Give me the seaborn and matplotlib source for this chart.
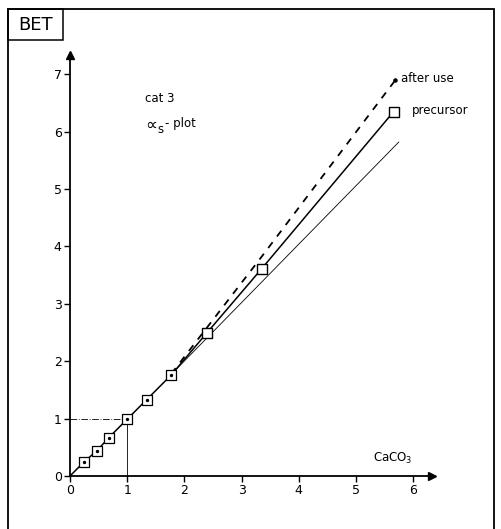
import matplotlib
matplotlib.use("Agg")
import matplotlib.pyplot as plt
import seaborn as sns
import pandas as pd
from matplotlib.patches import Rectangle

# ---- data ----
precursor_x = [0.0, 0.25, 0.47, 0.68, 1.0, 1.34, 1.77, 2.39, 3.35, 5.66]
precursor_y = [0.0, 0.25, 0.44, 0.67, 0.99, 1.33, 1.76, 2.49, 3.61, 6.35]
after_use_x = [1.77, 2.39, 3.35, 5.69]
after_use_y = [1.78, 2.58, 3.82, 6.90]
reference_x = [1.77, 5.75]
reference_y = [1.77, 5.82]
guide_level = 1.0
x_ticks = [0, 1, 2, 3, 4, 5, 6]
y_ticks = [0, 1, 2, 3, 4, 5, 6, 7]

sns.set_style("white")
plt.rcParams['font.family'] = ['DejaVu Sans']
plt.rcParams['text.color'] = 'black'
plt.rcParams['xtick.labelcolor'] = 'black'
plt.rcParams['ytick.labelcolor'] = 'black'
plt.rcParams['xtick.color'] = 'black'
plt.rcParams['ytick.color'] = 'black'

W, H = 502, 529
fig = plt.figure(figsize=(W / 100, H / 100), dpi=100)

px_x = 57.2
px_y = 57.4
x0_px, y0_px = 70, 476
xmax, ymax = 7.5, 7.9
ax = fig.add_axes([x0_px / W, (H - y0_px) / H, xmax * px_x / W, ymax * px_y / H])
ax.set_xlim(0, xmax)
ax.set_ylim(0, ymax)

df_pre = pd.DataFrame({"x": precursor_x, "y": precursor_y})
df_aft = pd.DataFrame({"x": after_use_x, "y": after_use_y})
df_ref = pd.DataFrame({"x": reference_x, "y": reference_y})

sns.lineplot(data=df_ref, x="x", y="y", ax=ax, color="black", lw=0.6, sort=False)
sns.lineplot(data=df_aft, x="x", y="y", ax=ax, color="black", lw=1.3,
             linestyle=(0, (4, 4)), sort=False)
sns.lineplot(data=df_pre, x="x", y="y", ax=ax, color="black", lw=1.1, sort=False)

# guide lines at 1
ax.plot([0, guide_level], [guide_level, guide_level], color="black", lw=0.6,
        linestyle=(0, (8, 2, 1, 2)))
ax.plot([guide_level, guide_level], [0, guide_level], color="black", lw=0.6)

# squares
small = df_pre.iloc[1:7]
big = df_pre.iloc[7:]
ax.scatter(small["x"], small["y"], marker="s", s=42, facecolor="white",
           edgecolor="black", lw=0.9, zorder=5)
ax.scatter(small["x"], small["y"], marker="o", s=2, color="black", zorder=6)
ax.scatter(big["x"], big["y"], marker="s", s=60, facecolor="white",
           edgecolor="black", lw=1.0, zorder=5)
ax.scatter([after_use_x[-1]], [after_use_y[-1]], marker="o", s=5, color="black", zorder=6)

# axes styling
for s in ["top", "right"]:
    ax.spines[s].set_visible(False)
ax.spines["left"].set_bounds(0, 7.33)
ax.spines["bottom"].set_bounds(0, 6.33)
for s in ["left", "bottom"]:
    ax.spines[s].set_linewidth(1.3)
    ax.spines[s].set_color("black")
ax.plot([6.33], [0], marker=">", color="black", ms=6, clip_on=False)
ax.plot([0], [7.33], marker="^", color="black", ms=6, clip_on=False)

ax.set_xticks(x_ticks)
ax.set_yticks(y_ticks)
ax.set_xticklabels([str(t) for t in x_ticks])
ax.set_yticklabels([str(t) for t in y_ticks])
ax.tick_params(axis="both", direction="out", length=4, width=1.0, color="black",
               labelsize=9, pad=2, bottom=True, left=True, labelcolor="black")
ax.set_xlabel("")
ax.set_ylabel("")

# annotations
ax.text(1.31, 6.58, "cat 3", fontsize=8.5, ha="left", va="center", color="black")
ax.text(1.31, 6.12, "\u221d", fontsize=12, ha="left", va="center", color="black")
ax.text(1.53, 6.04, "s", fontsize=8.5, ha="left", va="center", color="black")
ax.text(1.66, 6.14, "- plot", fontsize=8.5, ha="left", va="center", color="black")
ax.text(5.78, 6.92, "after use", fontsize=8.5, ha="left", va="center", color="black")
ax.text(5.97, 6.37, "precursor", fontsize=8.5, ha="left", va="center", color="black")
ax.text(5.3, 0.3, r"CaCO$_3$", fontsize=8.5, ha="left", va="center", color="black")

# figure frame and BET box
fig.patches.append(Rectangle((8 / W, -0.01), (494 - 8) / W, (H - 9) / H + 0.01,
                             transform=fig.transFigure, fill=False, lw=1.3,
                             edgecolor="black"))
fig.patches.append(Rectangle((8 / W, (H - 40) / H), (63 - 8) / W, 31 / H,
                             transform=fig.transFigure, fill=False, lw=1.1,
                             edgecolor="black"))
fig.text(35.5 / W, (H - 25) / H, "BET", fontsize=13, ha="center", va="center",
         color="black")

fig.savefig("out.png", dpi=100)
